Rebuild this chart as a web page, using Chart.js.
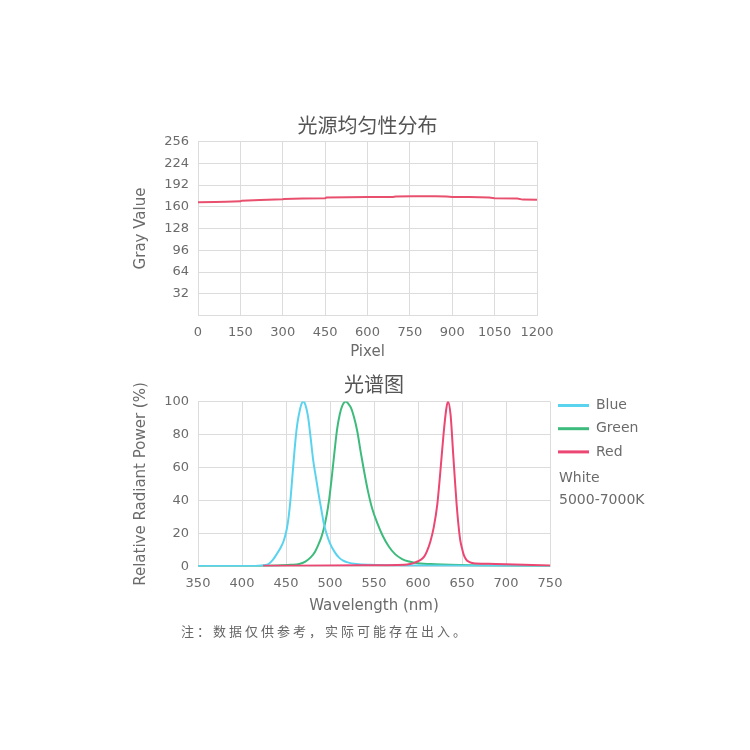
<!DOCTYPE html>
<html>
<head>
<meta charset="utf-8">
<title>光源均匀性分布 / 光谱图</title>
<script src="https://cdn.jsdelivr.net/npm/chart.js@4.4.1/dist/chart.umd.min.js"></script>
<style>
  html, body { margin: 0; padding: 0; background: #ffffff; }
  #page { position: relative; width: 750px; height: 750px; overflow: hidden; }
  #page canvas { position: absolute; }
  #note {
    position: absolute; left: 181px; top: 621px;
    font: 13px 'Noto Sans CJK SC', sans-serif;
    letter-spacing: 3px; color: #666; white-space: nowrap;
  }
</style>
</head>
<body>
<div id="page">
  <canvas id="uniformity" width="467" height="270" style="left:110px;top:100px"></canvas>
  <canvas id="spectrum" width="560" height="265" style="left:110px;top:365px"></canvas>
  <div id="note">注：数据仅供参考，实际可能存在出入。</div>
</div>
<script>
/* global Chart */

// --- uniformity profile (top chart) ---
const pixelPos = [0, 60, 100, 150, 155, 220, 300, 305, 370, 450, 455, 530, 600, 690, 700, 760, 840, 880, 900, 960, 1030, 1050, 1130, 1150, 1200];
const grayVal  = [166.5, 167, 167.5, 168, 169, 170, 171, 171.5, 172, 172.5, 173.5, 174, 174.3, 174.5, 175.2, 175.4, 175.4, 175.2, 174.5, 174.4, 173.5, 172.5, 172, 170.5, 170.4];
const pixelTicks = [0, 150, 300, 450, 600, 750, 900, 1050, 1200];
const grayTicks = [32, 64, 96, 128, 160, 192, 224, 256];

// --- spectrum (bottom chart) ---
const blueNm  = [350, 415, 422, 430, 435, 440, 444, 447, 449, 451, 453, 455, 457, 459, 461, 463, 466, 468, 470, 472, 475, 478, 481, 484, 487, 490, 493, 496, 500, 505, 510, 515, 520, 530, 545, 600, 700, 750];
const blueVal = [0.3, 0.3, 0.6, 1.5, 4, 8, 11.5, 15, 18.5, 23, 30, 40, 53, 66, 78, 87, 95.5, 99, 100, 98, 91, 78, 64, 54, 44, 35, 26, 20, 14, 9, 5.5, 3.5, 2.5, 1.5, 1, 0.6, 0.4, 0.3];

const greenNm  = [350, 420, 440, 455, 465, 472, 478, 483, 487, 490, 493, 496, 499, 502, 505, 508, 511, 514, 518, 521, 524, 527, 531, 535, 539, 543, 548, 554, 560, 567, 574, 582, 590, 600, 620, 660, 700, 750];
const greenVal = [0, 0.3, 0.6, 1, 1.5, 3, 5.5, 9, 13.5, 17.5, 23, 30.5, 40.5, 54, 69, 83, 92, 97.5, 100, 98.5, 96, 91, 82, 69, 57, 46, 35, 26, 18.5, 12, 7.5, 4.5, 3, 2, 1.4, 0.8, 0.5, 0.3];

const redNm  = [424, 500, 560, 585, 591, 597, 603, 607, 610, 614, 618, 622, 625, 629, 632, 634, 637, 640, 642, 644, 646, 648, 650, 652, 655, 658, 663, 680, 700, 720, 750];
const redVal = [0.5, 0.6, 0.8, 1, 1.5, 2.5, 4, 6, 9, 15, 24, 38, 55, 80, 95, 100, 92, 68, 52, 37, 25, 16, 11, 7, 4, 2.8, 2, 1.7, 1.4, 1, 0.6];

const spectrumLabels = ['Blue', 'Green', 'Red'];
const spectrumNotes = ['White', '5000-7000K'];

const COLORS = {
  blue: '#5ad3ee',
  green: '#3dbb7c',
  red: '#ec4672',
  profile: '#e8506e',
  grid: '#dcdcdc',
  text: '#6b6b6b',
  title: '#555555',
};

const LATIN = "'DejaVu Sans', sans-serif";
const CJK = "'Noto Sans CJK SC', sans-serif";

function toPoints(xs, ys) {
  return xs.map((x, i) => ({ x: x, y: ys[i] }));
}

// Title centred over the plot area, a fixed gap above it
const panelTitle = {
  id: 'panelTitle',
  afterDraw(chart, args, opts) {
    if (!opts || !opts.text) return;
    const ctx = chart.ctx;
    const area = chart.chartArea;
    ctx.save();
    ctx.font = '20px ' + CJK;
    ctx.fillStyle = COLORS.title;
    ctx.textAlign = 'center';
    ctx.textBaseline = 'middle';
    ctx.fillText(opts.text, (area.left + area.right) / 2, area.top - opts.gap);
    ctx.restore();
  },
};

// Legend on the right: line samples, then plain note lines
const sideLegend = {
  id: 'sideLegend',
  afterDraw(chart, args, opts) {
    if (!opts || !opts.display) return;
    const ctx = chart.ctx;
    const area = chart.chartArea;
    const x0 = area.right + 8;
    ctx.save();
    ctx.font = '14px ' + LATIN;
    ctx.textBaseline = 'middle';
    ctx.textAlign = 'left';
    chart.data.datasets.forEach((ds, i) => {
      const y = area.top + 4 + i * 23.2;
      ctx.strokeStyle = ds.borderColor;
      ctx.lineWidth = 3;
      ctx.beginPath();
      ctx.moveTo(x0, y);
      ctx.lineTo(x0 + 31, y);
      ctx.stroke();
      ctx.fillStyle = COLORS.text;
      ctx.fillText(ds.label, x0 + 38, y);
    });
    (opts.notes || []).forEach((t, i) => {
      ctx.fillStyle = COLORS.text;
      ctx.fillText(t, x0 + 1, area.top + 77 + i * 21.7);
    });
    ctx.restore();
  },
};

function baseScales(cfg) {
  return {
    x: {
      type: 'linear',
      min: cfg.xMin, max: cfg.xMax,
      afterFit: (s) => { s.height = cfg.xHeight; },
      afterBuildTicks: (s) => { s.ticks = cfg.xTicks.map((v) => ({ value: v })); },
      grid: { color: COLORS.grid, drawTicks: false },
      border: { color: COLORS.grid },
      ticks: {
        padding: 9, color: COLORS.text, font: { family: LATIN, size: 13 }, maxRotation: 0, autoSkip: false,
        callback: (v) => String(v),
      },
      title: { display: true, text: cfg.xTitle, color: COLORS.text, font: { family: LATIN, size: 15 }, padding: { top: 0, bottom: cfg.xTitlePad } },
    },
    y: {
      type: 'linear',
      min: cfg.yMin, max: cfg.yMax,
      afterFit: (s) => { s.width = 88; },
      afterBuildTicks: (s) => { s.ticks = cfg.yGrid.map((v) => ({ value: v })); },
      grid: { color: COLORS.grid, drawTicks: false },
      border: { color: COLORS.grid },
      ticks: {
        padding: 9, color: COLORS.text, font: { family: LATIN, size: 13 }, autoSkip: false,
        callback: (v) => (cfg.yLabels.indexOf(v) >= 0 ? String(v) : ''),
      },
      title: { display: true, text: cfg.yTitle, color: COLORS.text, font: { family: LATIN, size: 15 }, padding: { top: 22, bottom: 0 } },
    },
  };
}

new Chart(document.getElementById('uniformity'), {
  type: 'line',
  data: {
    datasets: [{
      label: 'Gray Value',
      data: toPoints(pixelPos, grayVal),
      borderColor: COLORS.profile,
      backgroundColor: COLORS.profile,
      borderWidth: 2,
      pointRadius: 0,
      tension: 0,
    }],
  },
  options: {
    responsive: false,
    animation: false,
    layout: { padding: { top: 41.5, right: 40, left: 0, bottom: 0 } },
    plugins: {
      legend: { display: false },
      tooltip: { enabled: false },
      panelTitle: { text: '光源均匀性分布', gap: 16.5 },
    },
    scales: baseScales({
      xMin: 0, xMax: 1200, xTicks: pixelTicks, xHeight: 54.5, xTitle: 'Pixel', xTitlePad: 9,
      yMin: 0, yMax: 256, yGrid: [0].concat(grayTicks), yLabels: grayTicks, yTitle: 'Gray Value',
    }),
  },
  plugins: [panelTitle],
});

const wlTicks = [350, 400, 450, 500, 550, 600, 650, 700, 750];
const powerTicks = [0, 20, 40, 60, 80, 100];

new Chart(document.getElementById('spectrum'), {
  type: 'line',
  data: {
    datasets: [
      { label: spectrumLabels[0], data: toPoints(blueNm, blueVal), borderColor: COLORS.blue, order: 1 },
      { label: spectrumLabels[1], data: toPoints(greenNm, greenVal), borderColor: COLORS.green, order: 2 },
      { label: spectrumLabels[2], data: toPoints(redNm, redVal), borderColor: COLORS.red, order: 0 },
    ].map((ds) => Object.assign(ds, {
      backgroundColor: ds.borderColor,
      borderWidth: 2,
      pointRadius: 0,
      cubicInterpolationMode: 'monotone',
    })),
  },
  options: {
    responsive: false,
    animation: false,
    layout: { padding: { top: 36.5, right: 120, left: 0, bottom: 0 } },
    plugins: {
      legend: { display: false },
      tooltip: { enabled: false },
      panelTitle: { text: '光谱图', gap: 17.5 },
      sideLegend: { display: true, notes: spectrumNotes },
    },
    scales: baseScales({
      xMin: 350, xMax: 750, xTicks: wlTicks, xHeight: 63.5, xTitle: 'Wavelength (nm)', xTitlePad: 14.5,
      yMin: 0, yMax: 100, yGrid: powerTicks, yLabels: powerTicks, yTitle: 'Relative Radiant Power (%)',
    }),
  },
  plugins: [panelTitle, sideLegend],
});
</script>
</body>
</html>
